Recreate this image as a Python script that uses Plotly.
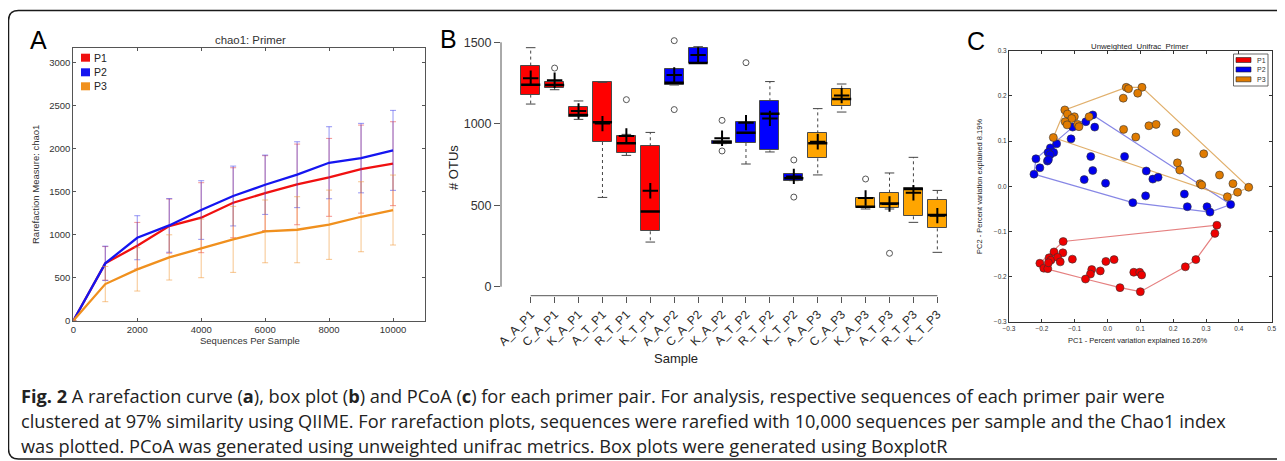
import plotly.graph_objects as go

W, H = 1285, 461
OFF = 8  # the page places the figure 8px from the window's top-left corner

def X(px):
    return (px - OFF) / W

def Y(py):
    return 1 - (py - OFF) / H

# ---------------- Panel A data (rarefaction, chao1) ----------------
seqs = [0, 1000, 2000, 3000, 4000, 5000, 6000, 7000, 8000, 9000, 10000]
series_names = ["P1", "P2", "P3"]
p1_mean = [0, 667, 872, 1100, 1198, 1372, 1484, 1585, 1667, 1763, 1826]
p2_mean = [0, 667, 965, 1108, 1287, 1450, 1581, 1698, 1837, 1891, 1981]
p3_mean = [0, 426, 597, 736, 841, 946, 1039, 1058, 1116, 1209, 1287]
p1_sd = [None, 195, 271, 315, 407, 407, 435, 469, 453, 512, 488]
p2_sd = [None, 200, 256, 312, 341, 348, 345, 383, 419, 404, 465]
p3_sd = [None, 205, 252, 263, 341, 384, 365, 384, 403, 407, 407]
a_x_ticks = [0, 2000, 4000, 6000, 8000, 10000]
a_y_ticks = [0, 500, 1000, 1500, 2000, 2500, 3000]

# ---------------- Panel B data (box plot of OTUs) ----------------
samples = ["A_A_P1", "C_A_P1", "K_A_P1", "A_T_P1", "R_T_P1", "K_T_P1",
           "A_A_P2", "C_A_P2", "K_A_P2", "A_T_P2", "R_T_P2", "K_T_P2",
           "A_A_P3", "C_A_P3", "K_A_P3", "A_T_P3", "R_T_P3", "K_T_P3"]
sample_primer = ["P1"] * 6 + ["P2"] * 6 + ["P3"] * 6
b_low = [1121, 1209, 1027, 548, 806, 274, 1238, 1373, 878, 753, 827, 651, 686, 1072, 477, 477, 395, 211]
b_q1 = [1179, 1220, 1040, 888, 821, 340, 1238, 1373, 878, 882, 837, 651, 788, 1107, 483, 485, 432, 358]
b_med = [1240, 1238, 1054, 1009, 880, 462, 1252, 1373, 886, 945, 1062, 665, 880, 1152, 491, 510, 600, 440]
b_q3 = [1357, 1254, 1101, 1254, 923, 862, 1338, 1463, 894, 1013, 1138, 694, 941, 1216, 546, 577, 604, 534]
b_high = [1467, 1262, 1140, 1254, 935, 947, 1338, 1473, 894, 1013, 1259, 694, 1093, 1244, 546, 698, 794, 591]
b_mean = [1279, 1267, 1078, 1001, 925, 589, 1299, 1422, 911, 1007, 1033, 677, 890, 1173, 544, 508, 577, 436]
b_outliers = [[], [1342], [], [], [1148], [], [1510, 1087], [], [1021, 833], [1375], [], [778, 550],
              [], [], [661], [205], [], []]
b_y_ticks = [0, 500, 1000, 1500]

# ---------------- Panel C data (PCoA) ----------------
pc_p1_x = [0.333, 0.327, 0.269, 0.237, -0.135, -0.163, -0.136, -0.178, -0.172, -0.152, -0.144, -0.206,
           -0.194, -0.182, -0.180, -0.107, -0.005, 0.020, -0.048, -0.052, -0.022, -0.067, 0.080, 0.098,
           0.104, 0.038, 0.100]
pc_p1_y = [-0.086, -0.104, -0.162, -0.178, -0.122, -0.145, -0.147, -0.158, -0.163, -0.157, -0.167, -0.170,
           -0.181, -0.182, -0.169, -0.161, -0.166, -0.162, -0.184, -0.194, -0.187, -0.205, -0.190, -0.190,
           -0.196, -0.224, -0.233]
pc_p2_x = [-0.045, -0.066, -0.106, -0.039, -0.111, -0.155, -0.174, -0.164, -0.181, -0.175, -0.183, -0.180,
           -0.218, -0.206, -0.224, -0.051, -0.045, -0.071, -0.006, 0.052, 0.118, 0.138, 0.154, 0.116,
           0.077, 0.234, 0.243, 0.303, 0.312, 0.375]
pc_p2_y = [0.158, 0.143, 0.131, 0.131, 0.105, 0.094, 0.085, 0.075, 0.075, 0.070, 0.056, 0.059,
           0.061, 0.041, 0.027, 0.066, 0.035, 0.015, 0.007, 0.066, 0.034, 0.016, 0.020, -0.021,
           -0.036, -0.017, -0.045, -0.045, -0.057, -0.040]
pc_p3_x = [0.057, 0.064, 0.105, 0.092, 0.048, -0.130, -0.122, -0.101, -0.109, -0.129, -0.123, -0.091,
           -0.087, -0.056, 0.049, 0.086, 0.126, 0.148, 0.209, -0.165, 0.293, 0.213, 0.220, 0.341,
           0.282, 0.287, 0.382, 0.430, 0.396, 0.365]
pc_p3_y = [0.219, 0.216, 0.219, 0.206, 0.195, 0.169, 0.160, 0.154, 0.150, 0.143, 0.136, 0.137,
           0.132, 0.154, 0.126, 0.109, 0.134, 0.137, 0.119, 0.108, 0.072, 0.052, 0.036, 0.025,
           0.006, 0.003, 0.006, -0.002, -0.013, -0.023]
c_ticks = [-0.3, -0.2, -0.1, 0.0, 0.1, 0.2, 0.3, 0.4, 0.5]

# ---------------- Colours ----------------
a_cols = {"P1": "#f01010", "P2": "#1515f0", "P3": "#f0901e"}
a_err = {"P1": "rgba(235,60,60,0.55)", "P2": "rgba(60,60,235,0.55)", "P3": "rgba(240,150,50,0.55)"}
b_cols = {"P1": "#ff0000", "P2": "#0000ff", "P3": "#ffa500"}
c_cols = {"P1": "#ee0000", "P2": "#0000ee", "P3": "#e07b00"}
c_hull = {"P1": "rgba(215,60,60,0.65)", "P2": "rgba(70,70,215,0.65)", "P3": "rgba(215,150,60,0.75)"}

FONT = "Liberation Sans, Arial, sans-serif"

fig = go.Figure()

# ---------------- Panel A traces ----------------
for name, ys, sds in zip(series_names, [p1_mean, p2_mean, p3_mean], [p1_sd, p2_sd, p3_sd]):
    fig.add_trace(go.Scatter(
        x=seqs, y=ys, mode="lines", name=name, showlegend=False,
        line=dict(color=a_cols[name], width=2.3),
        error_y=dict(type="data", array=sds, visible=True, color=a_err[name], thickness=1, width=3),
        xaxis="x", yaxis="y"))

# ---------------- Panel B traces ----------------
idx = list(range(len(samples)))
fig.add_trace(go.Bar(
    x=idx, y=[q3 - q1 for q1, q3 in zip(b_q1, b_q3)], base=b_q1, width=0.8,
    marker=dict(color=[b_cols[p] for p in sample_primer], line=dict(color="#4a4a4a", width=1)),
    showlegend=False, xaxis="x2", yaxis="y2"))

wx, wy, cx, cy, mx, my = [], [], [], [], [], []
for i in idx:
    wx += [i, i, None, i, i, None]
    wy += [b_q3[i], b_high[i], None, b_q1[i], b_low[i], None]
    cx += [i - 0.2, i + 0.2, None, i - 0.2, i + 0.2, None]
    cy += [b_high[i], b_high[i], None, b_low[i], b_low[i], None]
    mx += [i - 0.4, i + 0.4, None]
    my += [b_med[i], b_med[i], None]
fig.add_trace(go.Scatter(x=wx, y=wy, mode="lines", line=dict(color="#444", width=1, dash="3px,3px"),
                         showlegend=False, xaxis="x2", yaxis="y2", hoverinfo="skip"))
fig.add_trace(go.Scatter(x=cx, y=cy, mode="lines", line=dict(color="#444", width=1),
                         showlegend=False, xaxis="x2", yaxis="y2", hoverinfo="skip"))
fig.add_trace(go.Scatter(x=mx, y=my, mode="lines", line=dict(color="#000", width=2.5),
                         showlegend=False, xaxis="x2", yaxis="y2", hoverinfo="skip"))
fig.add_trace(go.Scatter(x=idx, y=b_mean, mode="markers",
                         marker=dict(symbol="cross-thin", size=11, line=dict(color="#000", width=2)),
                         showlegend=False, xaxis="x2", yaxis="y2"))
ox, oy = [], []
for i, outs in enumerate(b_outliers):
    for v in outs:
        ox.append(i)
        oy.append(v)
fig.add_trace(go.Scatter(x=ox, y=oy, mode="markers",
                         marker=dict(symbol="circle-open", size=6, color="#555", line=dict(width=1)),
                         showlegend=False, xaxis="x2", yaxis="y2"))

# ---------------- Panel C traces ----------------
def convex_hull(xs, ys):
    pts = sorted(set(zip(xs, ys)))
    def cross(o, a, b):
        return (a[0] - o[0]) * (b[1] - o[1]) - (a[1] - o[1]) * (b[0] - o[0])
    lower, upper = [], []
    for p in pts:
        while len(lower) >= 2 and cross(lower[-2], lower[-1], p) <= 0:
            lower.pop()
        lower.append(p)
    for p in reversed(pts):
        while len(upper) >= 2 and cross(upper[-2], upper[-1], p) <= 0:
            upper.pop()
        upper.append(p)
    hull = lower[:-1] + upper[:-1]
    hull.append(hull[0])
    return [p[0] for p in hull], [p[1] for p in hull]

c_data = [("P1", pc_p1_x, pc_p1_y), ("P2", pc_p2_x, pc_p2_y), ("P3", pc_p3_x, pc_p3_y)]
for name, xs, ys in c_data:
    hx, hy = convex_hull(xs, ys)
    fig.add_trace(go.Scatter(x=hx, y=hy, mode="lines", line=dict(color=c_hull[name], width=1.2),
                             showlegend=False, xaxis="x3", yaxis="y3", hoverinfo="skip"))
for name, xs, ys in c_data:
    fig.add_trace(go.Scatter(x=xs, y=ys, mode="markers", name=name, showlegend=False,
                             marker=dict(size=8, color=c_cols[name], line=dict(color="#333", width=0.6)),
                             xaxis="x3", yaxis="y3"))

# ---------------- Layout / axes ----------------
fig.update_layout(
    width=W, height=H, margin=dict(l=0, r=0, t=0, b=0, pad=0, autoexpand=False),
    paper_bgcolor="white", plot_bgcolor="white",
    font=dict(family=FONT, color="#333"),
    bargap=0, showlegend=False,
    xaxis=dict(domain=[X(73.3), X(425)], range=[0, 11000], tickvals=a_x_ticks,
               ticktext=[str(v) for v in a_x_ticks],
               ticks="inside", ticklen=3, tickcolor="#555", showline=True, linecolor="#555",
               mirror="ticks", showgrid=False, zeroline=False, tickfont=dict(size=9.5, color="#333"),
               automargin=False),
    yaxis=dict(domain=[Y(320.7), Y(47.7)], range=[0, 3175], tickvals=a_y_ticks,
               ticktext=[str(v) for v in a_y_ticks],
               ticks="inside", ticklen=3, tickcolor="#555", showline=True, linecolor="#555",
               mirror="ticks", showgrid=False, zeroline=False, tickfont=dict(size=9.5, color="#333"),
               automargin=False),
    xaxis2=dict(domain=[X(501), X(955)], range=[-1.2416, 17.7385], tickvals=idx, ticktext=samples,
                tickangle=-45, ticks="outside", ticklen=6, tickcolor="#555", showline=False,
                showgrid=False, zeroline=False, tickfont=dict(size=12, color="#2a2a2a"),
                anchor="y2", automargin=False),
    yaxis2=dict(domain=[Y(295.7), Y(30)], range=[-55.2, 1575.5], tickvals=b_y_ticks,
                ticks="outside", ticklen=6, tickcolor="#555", showline=False,
                showgrid=False, zeroline=False, tickfont=dict(size=12.5, color="#333"),
                anchor="x2", automargin=False),
    xaxis3=dict(domain=[X(1009), X(1271.7)], range=[-0.3, 0.5], tickvals=c_ticks, tickformat=".1f",
                ticks="inside", ticklen=3, tickcolor="#333", showline=True, linecolor="#333",
                mirror="ticks", showgrid=False, zeroline=False, tickfont=dict(size=6.5, color="#333"),
                anchor="y3", automargin=False),
    yaxis3=dict(domain=[Y(322), Y(50.7)], range=[-0.3, 0.3], tickvals=c_ticks[:7], tickformat=".1f",
                ticks="inside", ticklen=3, tickcolor="#333", showline=True, linecolor="#333",
                mirror="ticks", showgrid=False, zeroline=False, tickfont=dict(size=6.5, color="#333"),
                anchor="x3", automargin=False),
)

shapes = []
# R-style axis lines for panel B (span first..last category, 0..max tick)
shapes.append(dict(type="line", xref="x2", yref="y2 domain", x0=idx[0], x1=idx[-1], y0=0, y1=0,
                   line=dict(color="#555", width=1)))
shapes.append(dict(type="line", xref="x2 domain", yref="y2", x0=0, x1=0, y0=b_y_ticks[0], y1=b_y_ticks[-1],
                   line=dict(color="#555", width=1)))

# card border
r = 10
path = (f"M {X(8.5)},{Y(10.5 + r)} Q {X(8.5)},{Y(10.5)} {X(8.5 + r)},{Y(10.5)} "
        f"L {X(1300)},{Y(10.5)} L {X(1300)},{Y(459)} L {X(8.5 + r)},{Y(459)} "
        f"Q {X(8.5)},{Y(459)} {X(8.5)},{Y(459 - r)} Z")
shapes.append(dict(type="path", xref="paper", yref="paper", path=path,
                   line=dict(color="#1a1a1a", width=1.5), fillcolor="rgba(0,0,0,0)", layer="below"))

annotations = []
# Panel A legend (manual, compact)
for k, name in enumerate(series_names):
    cyc = [57.7, 72.3, 86.3][k]
    shapes.append(dict(type="rect", xref="paper", yref="paper", x0=X(81), x1=X(90), y0=Y(cyc + 4), y1=Y(cyc - 4),
                       fillcolor=a_cols[name], line=dict(width=0)))
    annotations.append(dict(x=X(91.5), y=Y(cyc), xref="paper", yref="paper", text=name, showarrow=False,
                            xanchor="left", yanchor="middle", font=dict(size=10.5, color="#222", family=FONT)))
# Panel C legend
shapes.append(dict(type="rect", xref="paper", yref="paper", x0=X(1233.5), x1=X(1268), y0=Y(86), y1=Y(54),
                   fillcolor="white", line=dict(color="#444", width=0.8)))
for k, name in enumerate(series_names):
    cyc = [60, 69.5, 79.3][k]
    shapes.append(dict(type="rect", xref="paper", yref="paper", x0=X(1236), x1=X(1251), y0=Y(cyc + 2.5),
                       y1=Y(cyc - 2.5), fillcolor=c_cols[name], line=dict(color="#222", width=0.6)))
    annotations.append(dict(x=X(1255), y=Y(cyc), xref="paper", yref="paper", text=name, showarrow=False,
                            xanchor="left", yanchor="middle", font=dict(size=7, color="#333", family=FONT)))

def ann(x, y, text, size, color="#333", angle=0, xanchor="center", family=FONT):
    annotations.append(dict(x=X(x), y=Y(y), xref="paper", yref="paper", text=text, showarrow=False,
                            xanchor=xanchor, yanchor="middle", textangle=angle,
                            font=dict(size=size, color=color, family=family)))

# Panel letters
ann(38, 40, "A", 25, "#000")
ann(448, 39, "B", 25, "#000")
ann(976, 41, "C", 25, "#000")
# Panel A titles
ann(250, 40, "chao1: Primer", 11.4)
ann(250, 340, "Sequences Per Sample", 9.5)
ann(35, 185, "Rarefaction Measure: chao1", 9.5, angle=-90)
# Panel B titles
ann(453, 168, "# OTUs", 13, "#222", angle=-90)
ann(676, 358, "Sample", 13, "#222")
# Panel C titles
ann(1140, 46.5, "Unweighted_Unifrac_Primer", 7.8, "#222")
ann(1138, 340, "PC1 - Percent variation explained 16.26%", 7.5, "#222")
ann(979, 187, "PC2 - Percent variation explained 8.19%", 7.5, "#222", angle=-90)

# Caption
CAP = "Open Sans, Noto Sans, sans-serif"
cap1 = ("<b>Fig. 2</b> A rarefaction curve (<b>a</b>), box plot (<b>b</b>) and PCoA (<b>c</b>) for each primer pair. "
        "For analysis, respective sequences of each primer pair were")
cap2 = ("clustered at 97% similarity using QIIME. For rarefaction plots, sequences were rarefied with 10,000 "
        "sequences per sample and the Chao1 index")
cap3 = "was plotted. PCoA was generated using unweighted unifrac metrics. Box plots were generated using BoxplotR"
ann(19, 396, cap1, 18.2, "#222", xanchor="left", family=CAP)
ann(19, 421, cap2, 18.2, "#222", xanchor="left", family=CAP)
ann(19, 445.5, cap3, 18.2, "#222", xanchor="left", family=CAP)

fig.update_layout(shapes=shapes, annotations=annotations)
fig.write_html("out.html")
